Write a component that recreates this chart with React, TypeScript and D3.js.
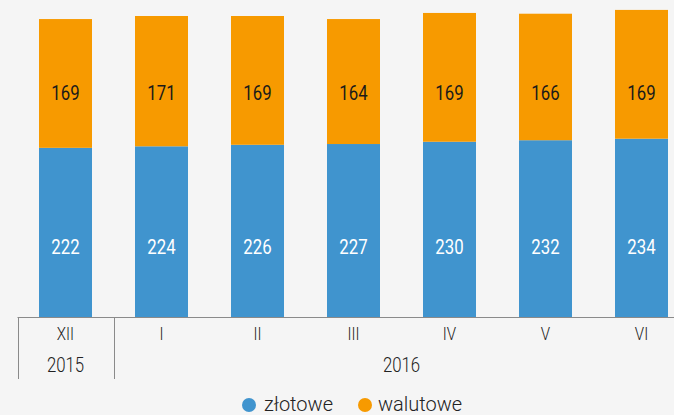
import React from "react";
import * as d3 from "d3";

const categories = ["XII", "I", "II", "III", "IV", "V", "VI"];
const zlotowe = [222, 224, 226, 227, 230, 232, 234];
const walutowe = [169, 171, 169, 164, 169, 166, 169];
const years = [
  { label: "2015", from: 0, to: 0 },
  { label: "2016", from: 1, to: 6 },
];
const seriesNames = ["złotowe", "walutowe"];

const W = 674;
const H = 415;
const BLUE = "#4094ce";
const ORANGE = "#f79a00";
const FONT = "Roboto, 'DejaVu Sans', sans-serif";

export default function App() {
  const x = d3
    .scaleBand<string>()
    .domain(categories)
    .range([17.5, 17.5 + 96 * categories.length])
    .paddingInner(0.448)
    .paddingOuter(0.224);
  const baseY = 317;
  const y = d3.scaleLinear().domain([0, 416]).range([baseY, 0]);
  const bw = x.bandwidth();
  const step = x.step();
  const axisLeft = x.range()[0];

  const stackData = categories.map((c, i) => ({ c, z: zlotowe[i], w: walutowe[i] }));
  const stack = d3.stack<any>().keys(["z", "w"])(stackData);
  const colors = [BLUE, ORANGE];

  const condensed = (cx: number, cy: number) => `translate(${cx},${cy}) scale(0.84,1)`;

  return (
    <svg
      width={W}
      height={H}
      style={{ position: "absolute", left: 0, top: 0, background: "#f5f5f5" }}
    >
      <rect x={0} y={0} width={W} height={H} fill="#f5f5f5" />
      {stack.map((s, si) => (
        <g key={si}>
          {s.map((d, i) => (
            <rect
              key={i}
              x={x(categories[i])}
              y={y(d[1])}
              width={bw}
              height={y(d[0]) - y(d[1])}
              fill={colors[si]}
            />
          ))}
        </g>
      ))}
      {categories.map((c, i) => {
        const cx = (x(c) as number) + bw / 2;
        return (
          <g key={c} fontFamily={FONT} fontSize={20} textAnchor="middle">
            <text transform={condensed(cx, 100)} fill="#1a1a1a">
              {walutowe[i]}
            </text>
            <text transform={condensed(cx, 254)} fill="#ffffff">
              {zlotowe[i]}
            </text>
          </g>
        );
      })}
      {/* axis */}
      <line x1={axisLeft} x2={W} y1={baseY + 0.5} y2={baseY + 0.5} stroke="#8a8a8a" strokeWidth={1} />
      {years.map((yr) => {
        const left = axisLeft + yr.from * step;
        const right = axisLeft + (yr.to + 1) * step;
        return (
          <g key={yr.label}>
            <line
              x1={Math.round(left) + 0.5}
              x2={Math.round(left) + 0.5}
              y1={baseY}
              y2={379}
              stroke="#8a8a8a"
              strokeWidth={1}
            />
            <text
              transform={condensed((left + right) / 2, 372)}
              textAnchor="middle"
              fontFamily={FONT}
              fontSize={20}
              fontWeight={300}
              fill="#222"
            >
              {yr.label}
            </text>
          </g>
        );
      })}
      {categories.map((c) => (
        <text
          key={c}
          transform={condensed((x(c) as number) + bw / 2, 340)}
          textAnchor="middle"
          fontFamily={FONT}
          fontSize={18}
          fontWeight={300}
          fill="#222"
        >
          {c}
        </text>
      ))}
      {/* legend */}
      <g fontFamily={FONT} fontSize={20} fontWeight={300} fill="#222">
        <circle cx={249} cy={405} r={7} fill={BLUE} />
        <text x={264} y={411}>{seriesNames[0]}</text>
        <circle cx={365} cy={405} r={7} fill={ORANGE} />
        <text x={378} y={411}>{seriesNames[1]}</text>
      </g>
    </svg>
  );
}
